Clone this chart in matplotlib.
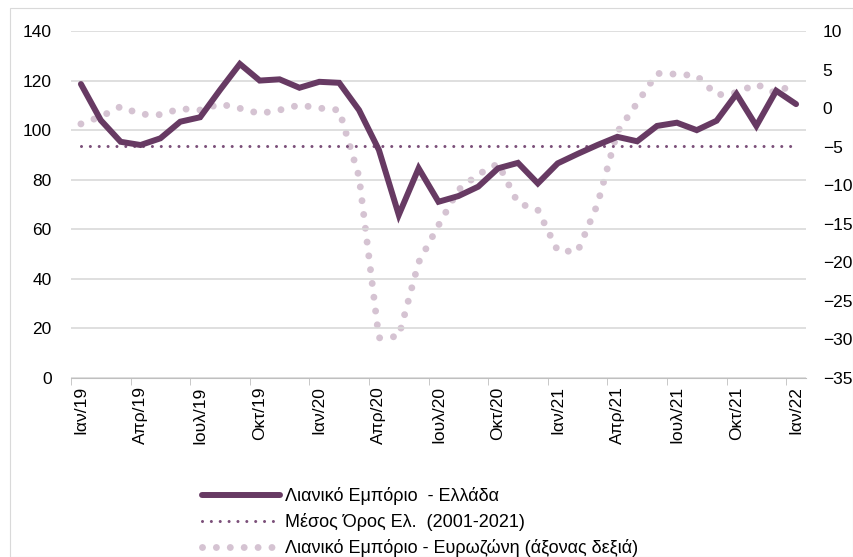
import matplotlib.pyplot as plt
from matplotlib.patches import Rectangle
import numpy as np

plt.rcParams['font.family'] = ['Liberation Sans', 'DejaVu Sans']

months = ["Ιαν/19", "Φεβ/19", "Μαρ/19", "Απρ/19", "Μαϊ/19", "Ιουν/19", "Ιουλ/19", "Αυγ/19", "Σεπ/19",
          "Οκτ/19", "Νοε/19", "Δεκ/19", "Ιαν/20", "Φεβ/20", "Μαρ/20", "Απρ/20", "Μαϊ/20", "Ιουν/20",
          "Ιουλ/20", "Αυγ/20", "Σεπ/20", "Οκτ/20", "Νοε/20", "Δεκ/20", "Ιαν/21", "Φεβ/21", "Μαρ/21",
          "Απρ/21", "Μαϊ/21", "Ιουν/21", "Ιουλ/21", "Αυγ/21", "Σεπ/21", "Οκτ/21", "Νοε/21", "Δεκ/21",
          "Ιαν/22"]

# Greek retail trade index (left axis)
greece = [118.6, 104.0, 95.3, 94.0, 96.7, 103.4, 105.2, 116.2, 126.7, 120.0, 120.5, 117.1, 119.5,
          119.1, 108.1, 92.0, 65.8, 84.6, 71.1, 73.4, 77.2, 84.6, 86.8, 78.5, 86.6, 90.4, 94.0,
          97.3, 95.5, 101.7, 103.0, 100.0, 103.8, 114.6, 101.7, 115.9, 110.5]
greece_avg = 93.5

# Eurozone retail trade, yoy % (right axis)
eurozone = [-2.05, -1.1, 0.2, -0.8, -0.85, -0.08, -0.25, 0.53, -0.03, -0.7, -0.25, 0.4, 0.0,
            -0.25, -8.9, -29.8, -29.6, -20.0, -15.2, -10.6, -8.6, -7.2, -12.3, -13.2, -18.5,
            -18.6, -12.5, -3.1, 0.66, 4.5, 4.4, 4.2, 1.7, 2.0, 3.1, 1.9, 3.4]

x = np.arange(len(months))

fig = plt.figure(figsize=(8.54, 5.57), dpi=100)
fig.patches.append(Rectangle((10 / 854, 0), 843 / 854, 1 - 8 / 557, transform=fig.transFigure,
                             fill=False, edgecolor='#D9D9D9', linewidth=0.8))

ax = fig.add_axes([71 / 854, 1 - 378 / 557, 735 / 854, 347 / 557])
ax2 = ax.twinx()

ax.set_ylim(0, 140)
ax.set_yticks(np.arange(0, 141, 20))
ax.set_xlim(-0.5, len(months) - 0.5)
ax.grid(axis='y', color='#D9D9D9', linewidth=1.2)
ax.set_axisbelow(True)

ax2.set_ylim(-35, 10)
ax2.set_yticks(np.arange(-35, 11, 5))

l_euro, = ax2.plot(x, eurozone, color='#D5C3D2', linewidth=5, dashes=(0.001, 2.0),
                   dash_capstyle='round', zorder=2)
l_avg, = ax.plot(x, [greece_avg] * len(x), color='#7B4F79', linewidth=2.2,
                 dashes=(0.001, 2.9), dash_capstyle='round', zorder=3)
l_gr, = ax.plot(x, greece, color='#673A63', linewidth=4.3, solid_joinstyle='miter',
                solid_capstyle='round', zorder=4)
ax.set_zorder(ax2.get_zorder() + 1)
ax.patch.set_visible(False)
for a in (ax, ax2):
    for s in a.spines.values():
        s.set_visible(False)
ax.spines['bottom'].set_visible(True)
ax.spines['bottom'].set_color('#BFBFBF')

ax.set_xticks(x[::3])
ax.set_xticklabels(months[::3], rotation=90, fontsize=12.5)
ax.set_xticks(np.arange(-0.5, len(months), 3), minor=True)
ax.tick_params(axis='x', which='major', length=0, pad=6)
ax.tick_params(axis='x', which='minor', length=5, color='#BFBFBF')
ax.tick_params(axis='y', length=0, labelsize=12.5, pad=14)
ax2.tick_params(axis='y', length=0, labelsize=12.5, pad=12)

handles = [l_gr, l_avg, l_euro]
labels = ["Λιανικό Εμπόριο  - Ελλάδα", "Μέσος Όρος Ελ.  (2001-2021)",
          "Λιανικό Εμπόριο - Ευρωζώνη (άξονας δεξιά)"]
fig.legend(handles, labels, loc='upper left', bbox_to_anchor=(193 / 854, 1 - 478 / 557),
           frameon=False, fontsize=13, handlelength=4.3, handletextpad=0.3,
           labelspacing=0.45, borderpad=0)

fig.savefig("out.png", dpi=100)
